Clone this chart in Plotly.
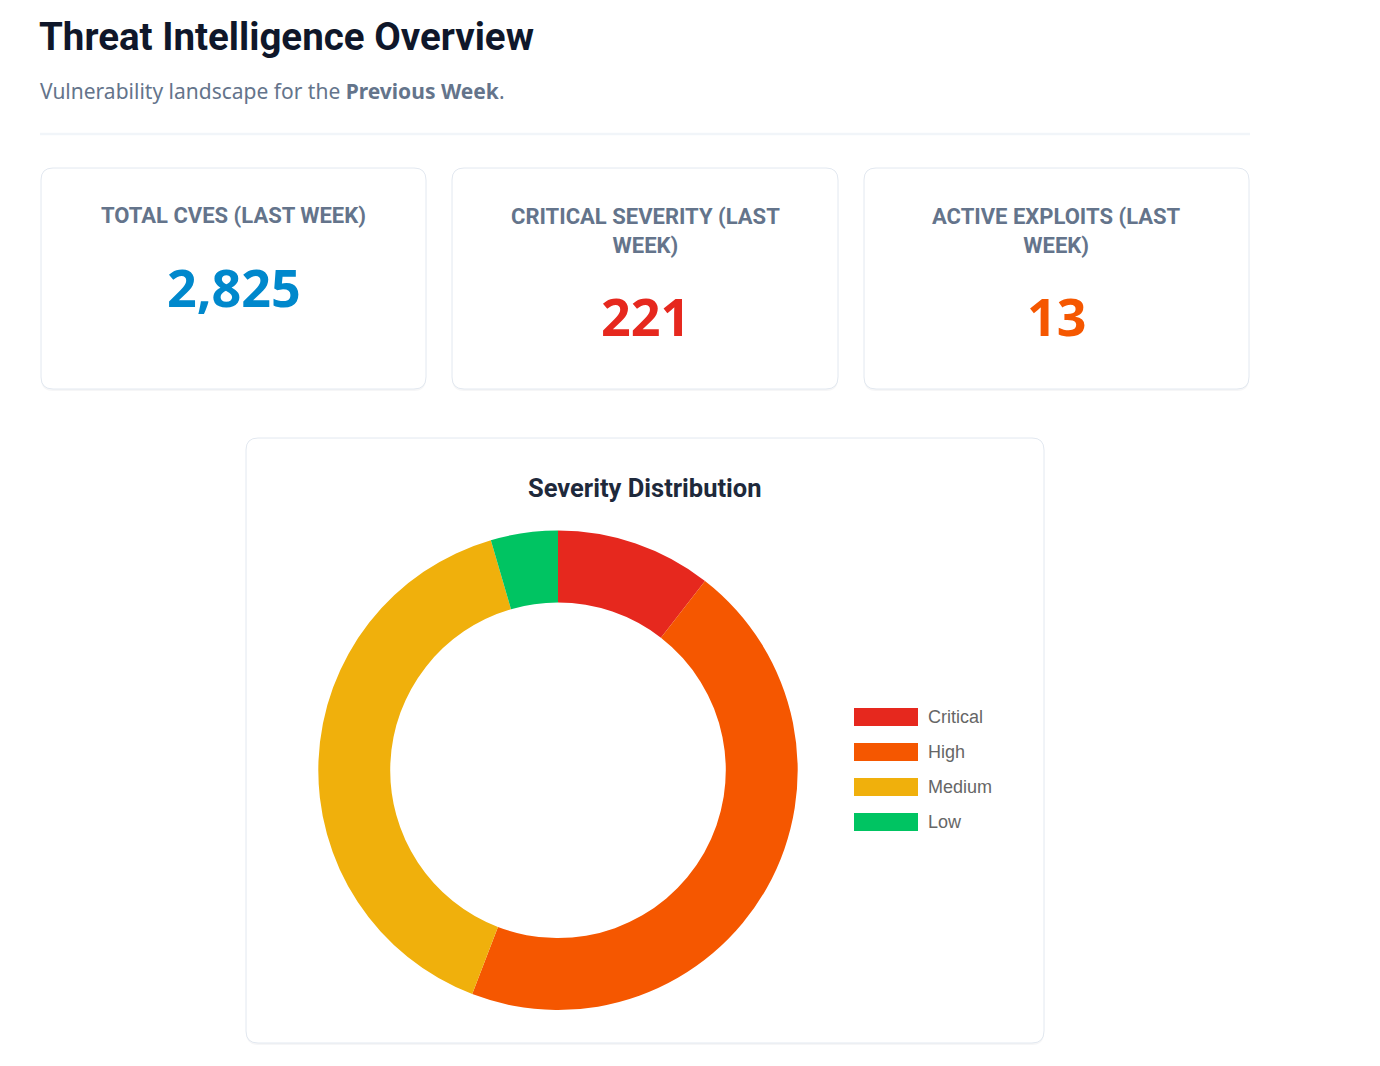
import plotly.graph_objects as go

# ---------------- data ----------------
severity_labels = ["Critical", "High", "Medium", "Low"]
severity_counts = [221, 953, 834, 95]
severity_colors = ["#e6281e", "#f55700", "#f0b00c", "#00c462"]

kpi_labels = ["TOTAL CVES (LAST WEEK)", "CRITICAL SEVERITY (LAST<br>WEEK)", "ACTIVE EXPLOITS (LAST<br>WEEK)"]
kpi_values = ["2,825", "221", "13"]
kpi_colors = ["#0088cc", "#e6281e", "#f55700"]

title_text = "Threat Intelligence Overview"
subtitle_text = "Vulnerability landscape for the <b>Previous Week</b>."
chart_title = "Severity Distribution"

W, H = 1380, 1066


def px(x):
    return x / W


def py(y):
    return 1 - y / H


def rrect(x0, y0, x1, y1, r):
    X0, X1 = px(x0), px(x1)
    Y0, Y1 = py(y0), py(y1)
    rx, ry = r / W, r / H
    return (f"M {X0+rx},{Y0} L {X1-rx},{Y0} Q {X1},{Y0} {X1},{Y0-ry} "
            f"L {X1},{Y1+ry} Q {X1},{Y1} {X1-rx},{Y1} L {X0+rx},{Y1} "
            f"Q {X0},{Y1} {X0},{Y1+ry} L {X0},{Y0-ry} Q {X0},{Y0} {X0+rx},{Y0} Z")


shapes = []
annotations = []


def card(x0, y0, x1, y1, r=12):
    # soft shadow
    shapes.append(dict(type="path", xref="paper", yref="paper",
                       path=rrect(x0, y0 + 2, x1, y1 + 2, r),
                       fillcolor="rgba(15,23,42,0.04)", line=dict(width=0), layer="below"))
    shapes.append(dict(type="path", xref="paper", yref="paper",
                       path=rrect(x0, y0, x1, y1, r),
                       fillcolor="#ffffff", line=dict(color="#e2e8f0", width=1), layer="below"))


# header
annotations.append(dict(x=px(37), y=py(37), xref="paper", yref="paper", xanchor="left", yanchor="middle",
                        text=f"<b>{title_text}</b>", showarrow=False,
                        font=dict(family="Roboto", size=38.5, color="#0f172a")))
annotations.append(dict(x=px(38), y=py(91), xref="paper", yref="paper", xanchor="left", yanchor="middle",
                        text=subtitle_text, showarrow=False,
                        font=dict(family="Noto Sans", size=21, color="#64748b")))
shapes.append(dict(type="line", xref="paper", yref="paper", x0=px(40), x1=px(1250), y0=py(134), y1=py(134),
                   line=dict(color="#f1f5f9", width=2.5)))

# KPI cards
card_x = [(41, 426), (452, 838), (864, 1249)]
for (x0, x1), lab, val, col in zip(card_x, kpi_labels, kpi_values, kpi_colors):
    card(x0, 168, x1, 389)
    cx = (x0 + x1) / 2
    two = "<br>" in lab
    annotations.append(dict(x=px(cx), y=py(231 if two else 216), xref="paper", yref="paper",
                            xanchor="center", yanchor="middle", text=f"<b>{lab}</b>", showarrow=False,
                            font=dict(family="Roboto", size=22, color="#64748b")))
    annotations.append(dict(x=px(cx), y=py(316 if two else 287), xref="paper", yref="paper",
                            xanchor="center", yanchor="middle", text=f"<b>{val}</b>", showarrow=False,
                            font=dict(family="Open Sans", size=52, color=col, weight=800)))

# chart card
card(246, 438, 1044, 1043)
annotations.append(dict(x=px(645), y=py(488), xref="paper", yref="paper", xanchor="center", yanchor="middle",
                        text=f"<b>{chart_title}</b>", showarrow=False,
                        font=dict(family="Roboto", size=25.5, color="#1e293b")))

# custom legend
for i, (lab, col) in enumerate(zip(severity_labels, severity_colors)):
    yc = 717 + i * 35
    shapes.append(dict(type="rect", xref="paper", yref="paper", x0=px(854), x1=px(918),
                       y0=py(yc - 9), y1=py(yc + 9), fillcolor=col, line=dict(width=0)))
    annotations.append(dict(x=px(926), y=py(yc), xref="paper", yref="paper", xanchor="left", yanchor="middle",
                            text=lab, showarrow=False,
                            font=dict(family="Liberation Sans", size=18, color="#666666")))

cx, cy, R = 558, 770.3, 239.7
fig = go.Figure(go.Pie(
    labels=severity_labels, values=severity_counts,
    marker=dict(colors=severity_colors, line=dict(width=0)),
    hole=0.7, sort=False, direction="clockwise", rotation=0,
    textinfo="none", hoverinfo="label+value", showlegend=False,
    domain=dict(x=[px(cx - R), px(cx + R)], y=[py(cy + R), py(cy - R)]),
))

fig.update_layout(
    width=W, height=H, margin=dict(l=0, r=0, t=0, b=0),
    paper_bgcolor="#ffffff", plot_bgcolor="#ffffff",
    shapes=shapes, annotations=annotations, showlegend=False,
)

fig.write_html("out.html", post_script="document.body.style.margin='0';document.body.style.overflow='hidden';",
               config={"displayModeBar": False})
